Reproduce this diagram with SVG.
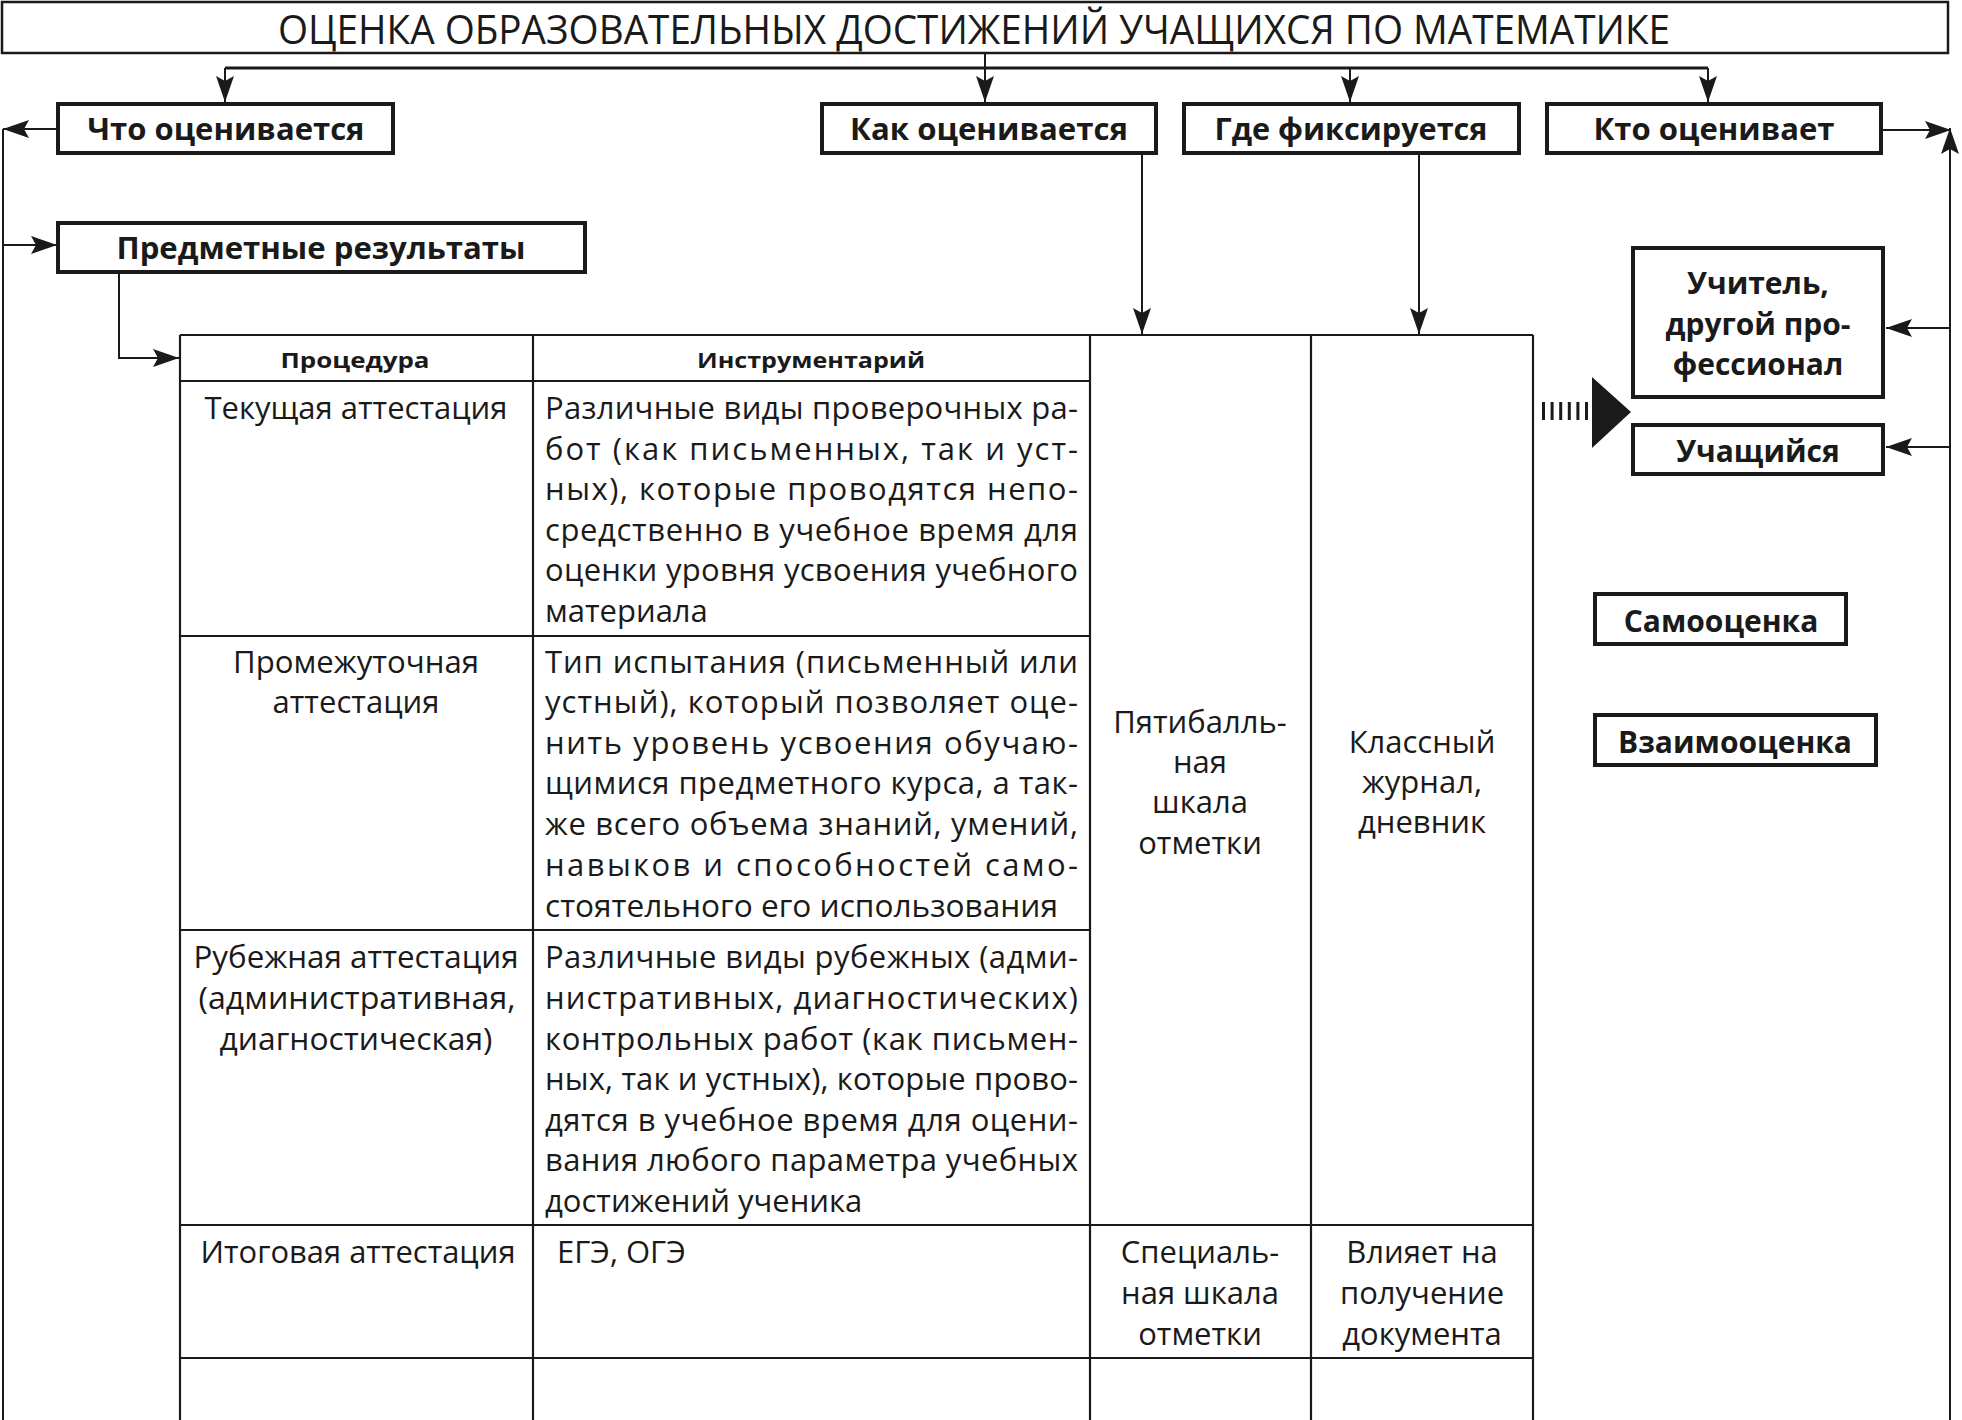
<svg xmlns="http://www.w3.org/2000/svg" width="1962" height="1420" viewBox="0 0 1962 1420">
<defs>
<marker id="arr" viewBox="0 0 26 18" refX="26" refY="9" markerWidth="26" markerHeight="18" markerUnits="userSpaceOnUse" orient="auto">
<path d="M26,9 L0,0 L5,9 L0,18 Z" fill="#1a1a1a"/>
</marker>
<style>
.bg{fill:#fff}
.box{fill:#fff;stroke:#1a1a1a;stroke-width:4}
.tbox{fill:#fff;stroke:#1a1a1a;stroke-width:2.5}
.ln{fill:none;stroke:#1a1a1a;stroke-width:2}
.bar{fill:none;stroke:#1a1a1a;stroke-width:3}
.grid{fill:none;stroke:#1a1a1a;stroke-width:2.2}
text{font-family:"Open Sans","Noto Sans","DejaVu Sans",sans-serif;fill:#1a1a1a}
.b{font-weight:700;font-size:30px;text-anchor:middle}
.h{font-weight:700;font-size:22px;text-anchor:middle}
.t{font-size:31px}
.c{font-size:31px;text-anchor:middle}
.title{font-size:40px;text-anchor:middle}
</style>
</defs>
<rect class="bg" x="0" y="0" width="1962" height="1420"/>

<g id="title">
<rect class="tbox" x="2" y="2" width="1946" height="51"/>
<text class="title" x="974" y="44" textLength="1392" lengthAdjust="spacingAndGlyphs">ОЦЕНКА ОБРАЗОВАТЕЛЬНЫХ ДОСТИЖЕНИЙ УЧАЩИХСЯ ПО МАТЕМАТИКЕ</text>
</g>

<g id="connectors">
<path class="ln" d="M985,53 V102" marker-end="url(#arr)"/>
<path class="bar" d="M225,68 H1708"/>
<path class="ln" d="M225,68 V102" marker-end="url(#arr)"/>
<path class="ln" d="M1350,68 V102" marker-end="url(#arr)"/>
<path class="ln" d="M1708,68 V102" marker-end="url(#arr)"/>
<path class="ln" d="M58,129 H3" marker-end="url(#arr)"/>
<path class="ln" d="M3,129 V1420"/>
<path class="ln" d="M3,245 H57" marker-end="url(#arr)"/>
<path class="ln" d="M119,272 V358 H179" marker-end="url(#arr)"/>
<path class="ln" d="M1142,154 V334" marker-end="url(#arr)"/>
<path class="ln" d="M1419,154 V334" marker-end="url(#arr)"/>
<path class="ln" d="M1882,130 H1951" marker-end="url(#arr)"/>
<path class="ln" d="M1950,1420 V128" marker-end="url(#arr)"/>
<path class="ln" d="M1950,328 H1886" marker-end="url(#arr)"/>
<path class="ln" d="M1950,447 H1886" marker-end="url(#arr)"/>
<path d="M1542,411 H1588" fill="none" stroke="#1a1a1a" stroke-width="18" stroke-dasharray="3 5.6"/>
<polygon points="1592,377 1631,412 1592,448" fill="#1a1a1a"/>
</g>

<g id="what">
<rect class="box" x="58" y="104" width="335" height="49"/>
<text class="b" x="226" y="140" textLength="277" lengthAdjust="spacingAndGlyphs">Что оценивается</text>
</g>
<g id="how">
<rect class="box" x="822" y="104" width="334" height="49"/>
<text class="b" x="989" y="140" textLength="278" lengthAdjust="spacingAndGlyphs">Как оценивается</text>
</g>
<g id="where">
<rect class="box" x="1184" y="104" width="335" height="49"/>
<text class="b" x="1351" y="140" textLength="273" lengthAdjust="spacingAndGlyphs">Где фиксируется</text>
</g>
<g id="who">
<rect class="box" x="1547" y="104" width="334" height="49"/>
<text class="b" x="1714" y="140" textLength="241" lengthAdjust="spacingAndGlyphs">Кто оценивает</text>
</g>

<g id="subject-results">
<rect class="box" x="58" y="223" width="527" height="49"/>
<text class="b" x="321" y="259" textLength="409" lengthAdjust="spacingAndGlyphs">Предметные результаты</text>
</g>

<g id="table">
<path class="grid" d="M180,335 H1533 M180,381 H1090 M180,636 H1090 M180,930 H1090 M180,1225 H1533 M180,1358 H1533 M180,335 V1420 M533,335 V1420 M1090,335 V1420 M1311,335 V1420 M1533,335 V1420"/>
<text class="h" x="355" y="368" textLength="149" lengthAdjust="spacingAndGlyphs">Процедура</text>
<text class="h" x="811" y="368" textLength="228" lengthAdjust="spacingAndGlyphs">Инструментарий</text>

<text class="c" x="356" y="419" textLength="303" lengthAdjust="spacingAndGlyphs">Текущая аттестация</text>
<text class="t" x="545" y="419" textLength="533" lengthAdjust="spacing">Различные виды проверочных ра-</text>
<text class="t" x="545" y="460" textLength="533" lengthAdjust="spacing">бот (как письменных, так и уст-</text>
<text class="t" x="545" y="500" textLength="533" lengthAdjust="spacing">ных), которые проводятся непо-</text>
<text class="t" x="545" y="541" textLength="533" lengthAdjust="spacing">средственно в учебное время для</text>
<text class="t" x="545" y="581" textLength="533" lengthAdjust="spacing">оценки уровня усвоения учебного</text>
<text class="t" x="545" y="622">материала</text>

<text class="c" x="356" y="673" textLength="246" lengthAdjust="spacingAndGlyphs">Промежуточная</text>
<text class="c" x="356" y="713" textLength="167" lengthAdjust="spacingAndGlyphs">аттестация</text>
<text class="t" x="545" y="673" textLength="533" lengthAdjust="spacing">Тип испытания (письменный или</text>
<text class="t" x="545" y="713" textLength="533" lengthAdjust="spacing">устный), который позволяет оце-</text>
<text class="t" x="545" y="754" textLength="533" lengthAdjust="spacing">нить уровень усвоения обучаю-</text>
<text class="t" x="545" y="794" textLength="533" lengthAdjust="spacing">щимися предметного курса, а так-</text>
<text class="t" x="545" y="835" textLength="533" lengthAdjust="spacing">же всего объема знаний, умений,</text>
<text class="t" x="545" y="876" textLength="533" lengthAdjust="spacing">навыков и способностей само-</text>
<text class="t" x="545" y="917" textLength="513" lengthAdjust="spacingAndGlyphs">стоятельного его использования</text>

<text class="c" x="356" y="968" textLength="325" lengthAdjust="spacingAndGlyphs">Рубежная аттестация</text>
<text class="c" x="357" y="1009" textLength="317" lengthAdjust="spacingAndGlyphs">(административная,</text>
<text class="c" x="356" y="1050" textLength="273" lengthAdjust="spacingAndGlyphs">диагностическая)</text>
<text class="t" x="545" y="968" textLength="533" lengthAdjust="spacing">Различные виды рубежных (адми-</text>
<text class="t" x="545" y="1009" textLength="533" lengthAdjust="spacing">нистративных,   диагностических)</text>
<text class="t" x="545" y="1050" textLength="533" lengthAdjust="spacing">контрольных работ (как письмен-</text>
<text class="t" x="545" y="1090" textLength="533" lengthAdjust="spacing">ных, так и устных), которые прово-</text>
<text class="t" x="545" y="1131" textLength="533" lengthAdjust="spacing">дятся в учебное время для оцени-</text>
<text class="t" x="545" y="1171" textLength="533" lengthAdjust="spacing">вания любого параметра учебных</text>
<text class="t" x="545" y="1212">достижений ученика</text>

<text class="c" x="1200" y="733">Пятибалль-</text>
<text class="c" x="1200" y="773">ная</text>
<text class="c" x="1200" y="813">шкала</text>
<text class="c" x="1200" y="854">отметки</text>
<text class="c" x="1422" y="753">Классный</text>
<text class="c" x="1422" y="793">журнал,</text>
<text class="c" x="1422" y="833">дневник</text>

<text class="c" x="358" y="1263" textLength="315" lengthAdjust="spacingAndGlyphs">Итоговая аттестация</text>
<text class="t" x="557" y="1263">ЕГЭ, ОГЭ</text>
<text class="c" x="1200" y="1263">Специаль-</text>
<text class="c" x="1200" y="1304">ная шкала</text>
<text class="c" x="1200" y="1345">отметки</text>
<text class="c" x="1422" y="1263">Влияет на</text>
<text class="c" x="1422" y="1304">получение</text>
<text class="c" x="1422" y="1345">документа</text>
</g>

<g id="teacher">
<rect class="box" x="1633" y="248" width="250" height="149"/>
<text class="b" x="1758" y="294">Учитель,</text>
<text class="b" x="1758" y="335">другой про-</text>
<text class="b" x="1758" y="375">фессионал</text>
</g>
<g id="student">
<rect class="box" x="1633" y="425" width="250" height="49"/>
<text class="b" x="1758" y="462">Учащийся</text>
</g>
<g id="self-assessment">
<rect class="box" x="1595" y="594" width="251" height="50"/>
<text class="b" x="1721" y="632">Самооценка</text>
</g>
<g id="mutual-assessment">
<rect class="box" x="1595" y="715" width="281" height="50"/>
<text class="b" x="1735" y="753">Взаимооценка</text>
</g>
</svg>
